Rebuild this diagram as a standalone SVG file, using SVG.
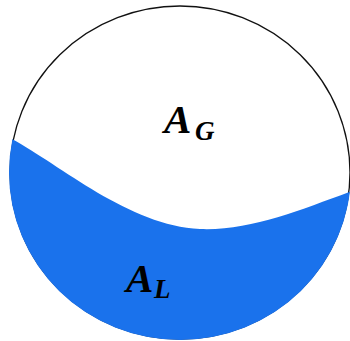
<svg xmlns="http://www.w3.org/2000/svg" width="350" height="341" viewBox="0 0 350 341">
<style>
.lbl{font-family:"Liberation Serif","Times New Roman",serif;font-weight:bold;font-style:italic;fill:#000}
.big{font-size:41px}
.sub{font-size:27px}
</style>
<defs>
<clipPath id="pipe"><ellipse cx="180" cy="172.5" rx="171" ry="167.5"/></clipPath>
</defs>
<rect width="350" height="341" fill="#fff"/>
<g id="pipe-wall">
<ellipse cx="180" cy="172.5" rx="170" ry="166.5" fill="none" stroke="#111" stroke-width="1.3"/>
</g>
<g id="liquid">
<path d="M0,132 L12,139 C60,165 130,226 200,229 C250,231 300,210 352,191 L352,345 L0,345 Z" fill="#1a72ec" clip-path="url(#pipe)"/>
</g>
<g id="gas-label">
<text class="lbl big" x="164" y="133">A</text><text class="lbl sub" x="195" y="140">G</text>
</g>
<g id="liquid-label">
<text class="lbl big" x="126" y="292">A</text><text class="lbl sub" x="154" y="298">L</text>
</g>
</svg>
